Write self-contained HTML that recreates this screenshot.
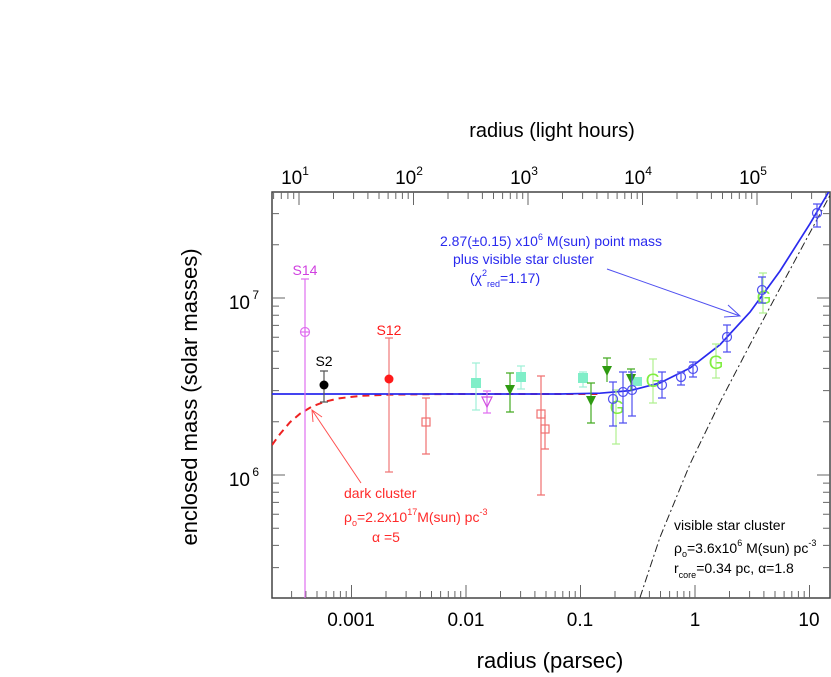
<!DOCTYPE html>
<html><head><meta charset="utf-8"><style>
html,body{margin:0;padding:0;background:#fff;}
svg{display:block;font-family:"Liberation Sans",Arial,sans-serif;}
</style></head><body>
<svg width="831" height="677" viewBox="0 0 831 677" xmlns="http://www.w3.org/2000/svg">
<defs><clipPath id="c"><rect x="272" y="192" width="558" height="406"/></clipPath></defs>
<text x="552" y="137" font-size="20" text-anchor="middle">radius (light hours)</text>
<text x="550" y="668" font-size="22" text-anchor="middle">radius (parsec)</text>
<text transform="translate(197,397) rotate(-90)" font-size="22" text-anchor="middle">enclosed mass (solar masses)</text>
<g font-size="19" text-anchor="middle">
<text x="295" y="184">10<tspan font-size="12" dy="-9">1</tspan></text>
<text x="409" y="184">10<tspan font-size="12" dy="-9">2</tspan></text>
<text x="524" y="184">10<tspan font-size="12" dy="-9">3</tspan></text>
<text x="638" y="184">10<tspan font-size="12" dy="-9">4</tspan></text>
<text x="753" y="184">10<tspan font-size="12" dy="-9">5</tspan></text>
<text x="351" y="626">0.001</text>
<text x="466" y="626">0.01</text>
<text x="580" y="626">0.1</text>
<text x="695" y="626">1</text>
<text x="809" y="626">10</text>
</g>
<g font-size="19" text-anchor="end">
<text x="250" y="309">10</text><text x="259" y="299" font-size="12">7</text>
<text x="250" y="486">10</text><text x="259" y="476" font-size="12">6</text>
</g>
<rect x="272" y="192" width="558" height="406" fill="none" stroke="#444" stroke-width="1.5"/>
<g stroke="#666" stroke-width="1">
<path d="M351.5 598v-13M466 598v-13M580.5 598v-13M695 598v-13M809.5 598v-13"/>
<path d="M291.6 598v-7M305.9 598v-7M317 598v-7M326.1 598v-7M333.8 598v-7M340.4 598v-7M346.2 598v-7
M386 598v-7M406.1 598v-7M420.4 598v-7M431.5 598v-7M440.6 598v-7M448.3 598v-7M454.9 598v-7M460.7 598v-7
M500.5 598v-7M520.6 598v-7M534.9 598v-7M546 598v-7M555.1 598v-7M562.8 598v-7M569.4 598v-7M575.2 598v-7
M615 598v-7M635.1 598v-7M649.4 598v-7M660.5 598v-7M669.6 598v-7M677.3 598v-7M683.9 598v-7M689.7 598v-7
M729.5 598v-7M749.6 598v-7M763.9 598v-7M775 598v-7M784.1 598v-7M791.8 598v-7M798.4 598v-7M804.2 598v-7"/>
<path d="M299 192v13M413.5 192v13M528 192v13M642.5 192v13M757 192v13"/>
<path d="M273.6 192v7M281.3 192v7M287.9 192v7M293.7 192v7
M333.5 192v7M353.6 192v7M367.9 192v7M379 192v7M388.1 192v7M395.8 192v7M402.4 192v7M408.2 192v7
M448 192v7M468.1 192v7M482.4 192v7M493.5 192v7M502.6 192v7M510.3 192v7M516.9 192v7M522.7 192v7
M562.5 192v7M582.6 192v7M596.9 192v7M608 192v7M617.1 192v7M624.8 192v7M631.4 192v7M637.2 192v7
M677 192v7M697.1 192v7M711.4 192v7M722.5 192v7M731.6 192v7M739.3 192v7M745.9 192v7M751.7 192v7
M791.5 192v7M811.6 192v7M825.9 192v7"/>
<path d="M272 475h13M272 298h13M830 475h-13M830 298h-13"/>
<path d="M272 567.6h7M272 545.4h7M272 528.3h7M272 514.3h7M272 502.4h7M272 492.2h7M272 483.1h7
M272 421.7h7M272 390.6h7M272 368.4h7M272 351.3h7M272 337.3h7M272 325.4h7M272 315.2h7M272 306.1h7
M272 244.7h7M272 213.6h7
M830 567.6h-7M830 545.4h-7M830 528.3h-7M830 514.3h-7M830 502.4h-7M830 492.2h-7M830 483.1h-7
M830 421.7h-7M830 390.6h-7M830 368.4h-7M830 351.3h-7M830 337.3h-7M830 325.4h-7M830 315.2h-7M830 306.1h-7
M830 244.7h-7M830 213.6h-7"/>
</g>
<g clip-path="url(#c)">
<polyline fill="none" stroke="#222" stroke-width="1" stroke-dasharray="8,3,2,3" points="640,597.5 660,537.3 690,464.1 720,402.2 750,344.6 780,288.3 810,232.5 830,195.3"/>
<polyline fill="none" stroke="#ee2222" stroke-width="2" stroke-dasharray="7,5" points="272,445 280,434 290,422.2 300,413.7 312,406.5 325,401.6 340,398.2 360,395.9 390,394.6 450,394 600,394"/>
<polyline fill="none" stroke="#2a2aee" stroke-width="1.7" points="272,394 560,394 600,393.2 630,390.6 660,382.9 690,368 720,344.7 750,312.1 780,271 810,223.7 830,189.7"/>
<g stroke="#e070f0" fill="none" stroke-width="1.2">
<path d="M305 279V598M301 279h8"/>
<circle cx="305" cy="332" r="4.5"/><path d="M300.5 332h9M305 327.5v9"/>
</g>
<path d="M324 371v31M320 371h8M320 402h8" stroke="#555" stroke-width="1.2"/>
<circle cx="324" cy="385" r="4.5" fill="#000"/>
<path d="M389 338v134M385 338h8M385 472h8" stroke="#f07878" stroke-width="1.2"/>
<circle cx="389" cy="379" r="4.5" fill="#ff1a1a"/>
<g stroke="#f07070" fill="none" stroke-width="1.2">
<path d="M426 398v56M422 398h8M422 454h8"/><rect x="422" y="418" width="8" height="8"/>
<path d="M541 376v119M537 376h8M537 495h8"/><rect x="537" y="410" width="8" height="8"/>
<path d="M545 415v34M541 449h8"/><rect x="541" y="425" width="8" height="8"/>
</g>
<g stroke="#a0f0d8" stroke-width="1.2">
<path d="M476 363v47M472 363h8M472 410h8M521 366v23M517 366h8M517 389h8M583 372v15M579 372h8M579 387h8"/>
</g>
<g fill="#80eec8">
<rect x="471" y="378" width="10" height="10"/><rect x="516" y="372" width="10" height="10"/><rect x="578" y="373" width="10" height="10"/><rect x="633" y="377" width="9" height="9"/>
</g>
<path d="M487 391v22M483 391h8M483 413h8" stroke="#e070f0" stroke-width="1.2"/>
<path d="M482 397h10l-5 10z" fill="none" stroke="#d050e0" stroke-width="1.2"/>
<g stroke="#44aa22" stroke-width="1.2">
<path d="M510 373v39M506 373h8M506 412h8M591 383v40M587 383h8M587 423h8M607 358v24M603 358h8M631 369v22M627 369h8"/>
</g>
<g fill="#2e9a10">
<path d="M505 385h10l-5 10z"/><path d="M586 396h10l-5 10z"/><path d="M602 366h10l-5 10z"/><path d="M626 374h10l-5 10z"/>
</g>
<g stroke="#b0f090" stroke-width="1.2">
<path d="M763 273v40M759 273h8M759 313h8M716 344v34M712 344h8M712 378h8M653 359v44M649 359h8M649 403h8M616 390v54M612 390h8M612 444h8"/>
</g>
<g fill="#80ee40" font-size="19" text-anchor="middle">
<text x="764" y="304">G</text><text x="716" y="369">G</text><text x="653" y="387">G</text><text x="617" y="414">G</text>
</g>
<g stroke="#5050f0" fill="none" stroke-width="1.2">
<path d="M817 204v23M813 204h8M813 227h8M762 277v26M758 277h8M758 303h8M727 325v27M723 325h8M723 352h8M693 362v15M689 362h8M689 377h8M681 372v13M677 372h8M677 385h8M662 372v26M658 372h8M658 398h8M632 372v44M628 372h8M628 416h8M623 372v51M619 372h8M619 423h8M613 382v44M609 382h8M609 426h8"/>
<circle cx="817" cy="213" r="4.5"/><circle cx="762" cy="290" r="4.5"/><circle cx="727" cy="337" r="4.5"/><circle cx="693" cy="369" r="4.5"/><circle cx="681" cy="377" r="4.5"/><circle cx="662" cy="385" r="4.5"/><circle cx="632" cy="390" r="4.5"/><circle cx="623" cy="392" r="4.5"/><circle cx="613" cy="399" r="4.5"/>
</g>
</g>
<g font-size="14" text-anchor="middle">
<text x="305" y="275" fill="#d040e0">S14</text>
<text x="324" y="366" fill="#000">S2</text>
<text x="389" y="335" fill="#ff1a1a">S12</text>
</g>
<g font-size="14" fill="#2a2aee">
<text x="440" y="246">2.87(±0.15) x10<tspan font-size="9" dy="-6">6</tspan><tspan dy="6"> M(sun) point mass</tspan></text>
<text x="453" y="264">plus visible star cluster</text>
<text x="470" y="283">(χ<tspan font-size="9" dy="-7">2</tspan><tspan font-size="9" dy="11">red</tspan><tspan dy="-4">=1.17)</tspan></text>
</g>
<path d="M607 269L740 316M728 305l12 11-16 1" fill="none" stroke="#5050f0" stroke-width="1"/>
<g font-size="14" fill="#ff2a2a">
<text x="344" y="498">dark cluster</text>
<text x="344" y="522">ρ<tspan font-size="9" dy="4">o</tspan><tspan dy="-4">=2.2x10</tspan><tspan font-size="9" dy="-7">17</tspan><tspan dy="7">M(sun) pc</tspan><tspan font-size="9" dy="-7">-3</tspan></text>
<text x="372" y="542">α =5</text>
</g>
<path d="M361 483L312 410M313 422l-1-12 10 7" fill="none" stroke="#ff5050" stroke-width="1"/>
<g font-size="14" fill="#000">
<text x="674" y="530">visible star cluster</text>
<text x="674" y="553">ρ<tspan font-size="9" dy="4">o</tspan><tspan dy="-4">=3.6x10</tspan><tspan font-size="9" dy="-7">6</tspan><tspan dy="7"> M(sun) pc</tspan><tspan font-size="9" dy="-7">-3</tspan></text>
<text x="674" y="573">r<tspan font-size="9" dy="5">core</tspan><tspan dy="-5">=0.34 pc, α=1.8</tspan></text>
</g>
</svg>
</body></html>
